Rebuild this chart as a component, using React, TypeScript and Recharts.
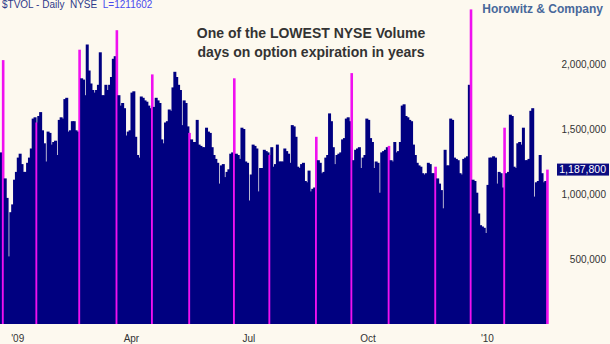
import React from 'react';
import { BarChart, Bar, XAxis, YAxis, Cell } from 'recharts';

// Daily NYSE total volume (thousands of shares), Dec 18 2008 .. Feb 19 2010
const VOLUME_K: number[] = [
  1320, 2030, 1120, 970, 520, 860, 920, 1110, 1170, 1280,
  1310, 1230, 1170, 1170, 1240, 1280, 1350, 1580, 1590, 1550,
  1600, 1630, 1490, 1390, 1250, 1480, 1470, 1380, 1400, 1410,
  1300, 1570, 1590, 1580, 1730, 1740, 1480, 1490, 1560, 1560,
  1490, 1480, 2110, 1890, 1880, 1760, 2150, 1950, 1850, 1800,
  1780, 1800, 1840, 2090, 1760, 1760, 1840, 1800, 1840, 1900,
  2040, 2060, 2260, 1760, 1680, 1700, 1660, 1450, 1480, 1490,
  1780, 1790, 1440, 1300, 1280, 1750, 1740, 1720, 1710, 1680,
  1660, 1920, 1670, 1740, 1720, 1700, 1420, 1390, 1550, 1560,
  1650, 1640, 1820, 1940, 1900, 1840, 1800, 1530, 1720, 1700,
  1520, 1470, 1420, 1400, 1400, 1570, 1380, 1370, 1360, 1360,
  1510, 1480, 1470, 1360, 1300, 1270, 1240, 1080, 1220, 1230,
  1130, 1170, 1190, 1310, 1320, 1890, 1310, 1300, 1270, 1510,
  1500, 1250, 1240, 950, 1150, 1380, 1370, 1350, 1020, 1200,
  1200, 1340, 1330, 1320, 1300, 1360, 1210, 1230, 1380, 1250,
  1250, 1250, 1350, 1330, 1310, 1240, 1530, 1520, 1440, 1210,
  1200, 1230, 1240, 1100, 1090, 1180, 1020, 1040, 1050, 1440,
  1260, 1240, 1160, 1170, 1280, 1300, 1620, 1560, 1360, 1230,
  1300, 1310, 1320, 1420, 1430, 1580, 1590, 1560, 1930, 1260,
  1340, 1350, 1360, 1200, 1280, 1300, 1580, 1570, 1430, 1400,
  1200, 1250, 1240, 1010, 1320, 1330, 1340, 1360, 1370, 1260,
  1250, 1400, 1320, 1330, 1400, 1680, 1690, 1600, 1590, 1570,
  1560, 1380, 1300, 1240, 1220, 1210, 1160, 1150, 1160, 1240,
  1230, 1160, 1160, 1210, 1120, 1080, 1030, 890, 1340, 1220,
  1220, 1580, 1570, 1280, 1270, 1260, 1160, 1150, 1270, 1280,
  1290, 1840, 2420, 1110, 1100, 1010, 850, 760, 750, 740,
  700, 1070, 1280, 1280, 1290, 1280, 1080, 1170, 1160, 1050,
  1510, 1160, 1170, 1610, 1600, 1210, 1200, 1390, 1400, 1380,
  1510, 1260, 1260, 1270, 1640, 1660, 980, 1090, 1100, 1300,
  1160, 1090, 1100, 1187.8,
];

// Monthly option expiration days (highlighted in magenta)
const EXPIRATIONS: string[] = [
  '2008-12-19', '2009-01-16', '2009-02-20', '2009-03-20', '2009-04-17',
  '2009-05-15', '2009-06-19', '2009-07-17', '2009-08-21', '2009-09-18',
  '2009-10-16', '2009-11-20', '2009-12-18', '2010-01-15', '2010-02-19',
];

// NYSE market holidays in the period
const HOLIDAYS: string[] = [
  '2008-12-25', '2009-01-01', '2009-01-19', '2009-02-16', '2009-04-10',
  '2009-05-25', '2009-07-03', '2009-09-07', '2009-11-26', '2009-12-25',
  '2010-01-01', '2010-01-18', '2010-02-15',
];

const FIRST_DAY = '2008-12-18';

const TICK_DATES: string[] = ['2009-01-02', '2009-04-01', '2009-07-01', '2009-10-01', '2010-01-04'];
const TICK_LABELS: string[] = ["'09", 'Apr', 'Jul', 'Oct', "'10"];

const Y_TICKS: number[] = [500000, 1000000, 1500000, 2000000];
const LAST_VALUE = 1187800;

const W = 610;
const H = 344;
const Y_AXIS_W = 62;
const X_AXIS_H = 20;
const Y_MAX = 2492308;

const NAVY = '#000080';
const MAGENTA = '#f011f0';
const BG = '#fdf9ef';
const FONT = '"Liberation Sans", Arial, sans-serif';

function tradingDays(n: number): string[] {
  const out: string[] = [];
  const [y, m, d] = FIRST_DAY.split('-').map(Number);
  let t = Date.UTC(y, m - 1, d);
  while (out.length < n) {
    const dt = new Date(t);
    const dow = dt.getUTCDay();
    const iso = dt.toISOString().slice(0, 10);
    if (dow !== 0 && dow !== 6 && !HOLIDAYS.includes(iso)) out.push(iso);
    t += 86400000;
  }
  return out;
}

const DATES = tradingDays(VOLUME_K.length);
const data = DATES.map((date, i) => ({
  date,
  vol: VOLUME_K[i] * 1000,
  exp: EXPIRATIONS.includes(date),
}));

const fmt = (v: number) => v.toLocaleString('en-US');

const XTick = (props: any) => {
  const { x, y, payload } = props;
  const idx = TICK_DATES.indexOf(payload.value);
  return (
    <text x={x} y={y + 16} textAnchor="middle" fontSize={10} fontFamily={FONT} fill="#333">
      {idx >= 0 ? TICK_LABELS[idx] : ''}
    </text>
  );
};

const YTick = (props: any) => {
  const { y, payload } = props;
  const right = W - 4;
  if (payload.value === LAST_VALUE) {
    return (
      <g>
        <rect x={W - Y_AXIS_W + 9} y={y - 6} width={52} height={12} fill="#0b0b80" />
        <text x={right} y={y + 3.6} textAnchor="end" fontSize={10.5} fontFamily={FONT} fill="#ffffff">
          {fmt(payload.value)}
        </text>
      </g>
    );
  }
  return (
    <text x={right} y={y + 3.6} textAnchor="end" fontSize={10} fontFamily={FONT} fill="#333">
      {fmt(payload.value)}
    </text>
  );
};

// Solid bar that slightly overlaps its right neighbour so no seams show
const SolidBar = (props: any) => {
  const { x, y, width, height, payload } = props;
  if (height == null || height <= 0) return null;
  const exp = payload && payload.exp;
  return (
    <rect
      x={x}
      y={y}
      width={width + (exp ? 0.6 : 1)}
      height={height}
      fill={exp ? MAGENTA : NAVY}
    />
  );
};

export default function App() {
  return (
    <div style={{ position: 'absolute', left: 0, top: 0, width: W, height: H, background: BG, overflow: 'hidden' }}>
      <BarChart
        width={W}
        height={H}
        data={data}
        margin={{ top: 0, right: 0, bottom: 0, left: 0 }}
        barCategoryGap={0}
        barGap={0}
      >
        <XAxis
          dataKey="date"
          ticks={TICK_DATES}
          interval={0}
          height={X_AXIS_H}
          axisLine={false}
          tickLine={false}
          tickSize={0}
          tick={<XTick />}
        />
        <YAxis
          orientation="right"
          type="number"
          width={Y_AXIS_W}
          domain={[0, Y_MAX]}
          ticks={[...Y_TICKS, LAST_VALUE]}
          interval={0}
          axisLine={false}
          tickLine={false}
          tickSize={0}
          tick={<YTick />}
          allowDataOverflow
        />
        <Bar dataKey="vol" isAnimationActive={false} shape={<SolidBar />}>
          {data.map((d, i) => (
            <Cell key={i} fill={d.exp ? MAGENTA : NAVY} />
          ))}
        </Bar>
      </BarChart>
      <svg
        width={W}
        height={H}
        style={{ position: 'absolute', left: 0, top: 0, pointerEvents: 'none' }}
      >
        <text x={2} y={8} fontSize={10} fontFamily={FONT} style={{ whiteSpace: 'pre' }}>
          <tspan fill="#2f3a8a">{'$TVOL - Daily  NYSE  '}</tspan>
          <tspan fill="#4b4bee">L=1211602</tspan>
        </text>
        <text x={603} y={13} textAnchor="end" fontSize={12} fontWeight="bold" fontFamily={FONT} fill="#48689a">
          Horowitz &amp; Company
        </text>
        <text x={311} y={38} textAnchor="middle" fontSize={14} fontWeight="bold" fontFamily={FONT} fill="#333">
          One of the LOWEST NYSE Volume
        </text>
        <text x={311} y={57} textAnchor="middle" fontSize={14} fontWeight="bold" fontFamily={FONT} fill="#333">
          days on option expiration in years
        </text>
      </svg>
    </div>
  );
}
